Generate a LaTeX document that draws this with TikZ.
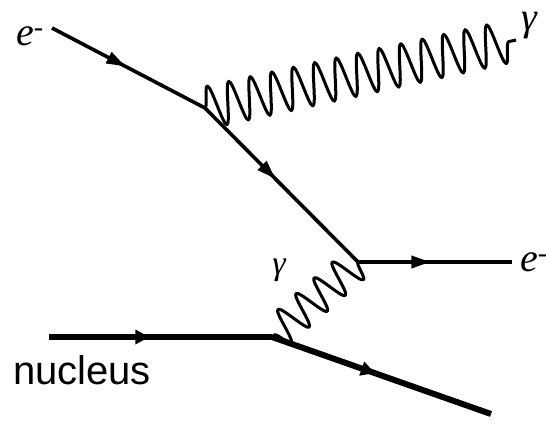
\documentclass[tikz,border=0pt]{standalone}
\usepackage{fontspec}
\setmainfont{Liberation Serif}
\setsansfont{Liberation Sans}
\usetikzlibrary{decorations.pathmorphing,decorations.markings,arrows.meta}
\begin{document}
\begin{tikzpicture}[x=1pt,y=-1pt,
  fermion/.style={line width=3.6pt, postaction={decorate},
    decoration={markings, mark=at position #1 with {\arrow{Triangle[length=19pt,width=12pt]}}}},
  fermion/.default=0.47,
  heavy/.style={line width=6pt, postaction={decorate},
    decoration={markings, mark=at position #1 with {\arrow{Triangle[length=14pt,width=14pt]}}}},
  heavy/.default=0.47,
  photon/.style={line width=3pt, line join=round, decorate,
    decoration={snake, amplitude=21pt, segment length=22pt}},
  vphoton/.style={line width=3pt, line join=round, decorate,
    decoration={snake, amplitude=17pt, segment length=24pt}},
  lbl/.style={inner sep=0pt, font=\fontsize{40}{44}\selectfont\itshape},
  slbl/.style={inner sep=0pt, font=\fontsize{34}{38}\selectfont\itshape},
  nlbl/.style={inner sep=0pt, font=\fontsize{40}{44}\selectfont\sffamily}]
\useasboundingbox (0,0) rectangle (546,423);
\coordinate (ein) at (52,28);
\coordinate (v1) at (205,108);
\coordinate (v2) at (358,262);
\coordinate (eout) at (512,262);
\coordinate (nin) at (49,337);
\coordinate (v3) at (272,337);
\coordinate (nout) at (491,414);
\coordinate (gend) at (516,40);
\draw[fermion=0.48] (ein) -- (v1);
\draw[fermion=0.46] (v1) -- (v2);
\draw[fermion=0.47] (v2) -- (eout);
\draw[photon] (v1) -- (gend);
\draw[vphoton] (v2) -- (v3);
\draw[heavy=0.45] (nin) -- (v3);
\draw[heavy=0.47] (v3) -- (nout);
\node[lbl] (e1) at (30,36) {e\textsuperscript{-}};
\node[lbl] (g1) at (529,26) {γ};
\node[slbl] (g2) at (279,270) {γ};
\node[lbl] (e2) at (534,262) {e\textsuperscript{-}};
\node[nlbl] (nuc) at (82,370) {nucleus};
\end{tikzpicture}
\end{document}
